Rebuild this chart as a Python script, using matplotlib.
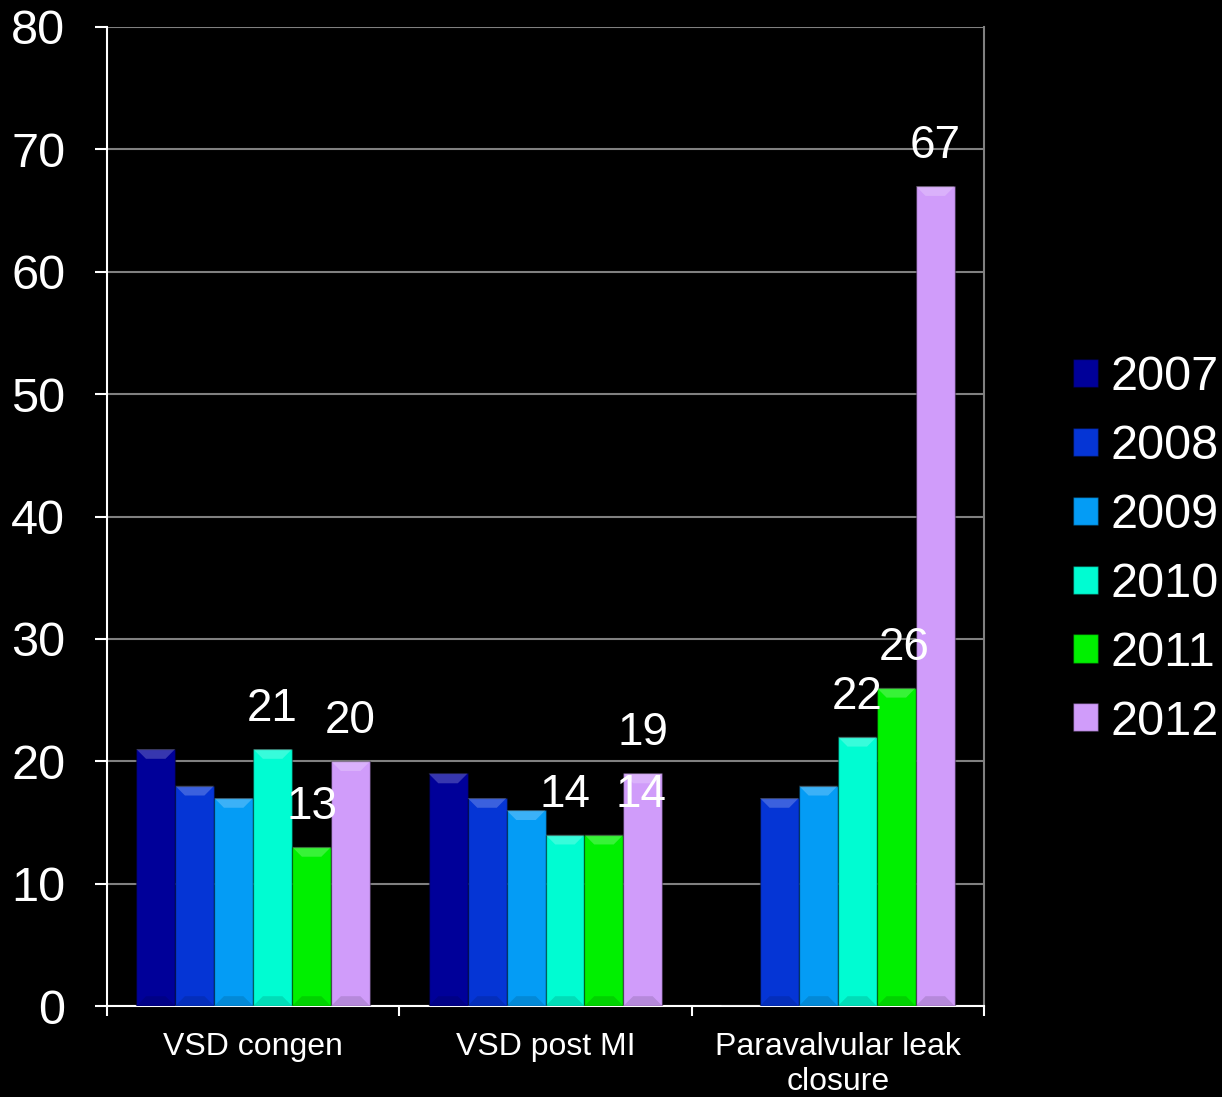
import matplotlib
matplotlib.use("Agg")
import matplotlib.pyplot as plt
import numpy as np
from matplotlib.patches import Polygon

categories = ["VSD congen", "VSD post MI", "Paravalvular leak\nclosure"]
years = ["2007", "2008", "2009", "2010", "2011", "2012"]
values = {
    "2007": [21, 19, 0],
    "2008": [18, 17, 17],
    "2009": [17, 16, 18],
    "2010": [21, 14, 22],
    "2011": [13, 14, 26],
    "2012": [20, 19, 67],
}
colors = ["#000099", "#0535D5", "#049CF5", "#00FCD2", "#00F000", "#D09CFA"]
labelled_years = ["2010", "2011", "2012"]
yticks = [0, 10, 20, 30, 40, 50, 60, 70, 80]

plt.rcParams['font.family'] = ['Liberation Sans', 'DejaVu Sans']

fig = plt.figure(figsize=(12.22, 10.97), dpi=100, facecolor="black")
ax = fig.add_axes([107/1222, 1-1006/1097, (984-107)/1222, (1006-27)/1097])
ax.set_facecolor("black")

n = len(years)
group_w = 0.8
bw = group_w / n
x = np.arange(len(categories))

# label offsets in points (x shift), for overlapping labels
label_dx = {("2011", 1): 27, ("2011", 2): 6}

for i, (yr, col) in enumerate(zip(years, colors)):
    xs = x - group_w/2 + bw*(i + 0.5)
    vals = values[yr]
    bars = ax.bar(xs, vals, width=bw, color=col, edgecolor=(0, 0, 0, 0.35),
                  linewidth=1.0, label=yr, zorder=3)
    # bevel highlight on top of each bar
    for b in bars:
        h = b.get_height()
        if h <= 0:
            continue
        x0 = b.get_x(); w = b.get_width()
        inset = w * 0.25
        bev = 0.8
        poly = Polygon([[x0, h], [x0 + w, h], [x0 + w - inset, h - bev], [x0 + inset, h - bev]],
                       closed=True, facecolor="white", alpha=0.22, edgecolor="none", zorder=4)
        ax.add_patch(poly)
        poly2 = Polygon([[x0, 0], [x0 + w, 0], [x0 + w - inset, 0.8], [x0 + inset, 0.8]],
                        closed=True, facecolor="black", alpha=0.12, edgecolor="none", zorder=4)
        ax.add_patch(poly2)
    if yr in labelled_years:
        for j, (xx, v) in enumerate(zip(xs, vals)):
            dx = label_dx.get((yr, j), 0)
            ax.annotate(str(v), (xx, v), xytext=(dx, 13), textcoords="offset points",
                        ha="center", va="bottom", color="white", fontsize=33, zorder=5)

ax.set_xlim(-0.5, len(categories) - 0.5)
ax.set_ylim(0, 80)
ax.set_yticks(yticks)
ax.set_yticklabels([str(t) for t in yticks])
ax.set_xticks(x)
ax.set_xticklabels(categories)
ax.set_xticks(np.arange(-0.5, len(categories)), minor=True)

ax.tick_params(axis="y", colors="white", labelsize=35, length=9, width=1.5, pad=21)
ax.tick_params(axis="x", which="major", length=0, colors="white", labelsize=23, pad=19)
ax.tick_params(axis="x", which="minor", length=7, width=1.5, color="white")
for lab in ax.get_xticklabels():
    lab.set_linespacing(1.2)

ax.yaxis.grid(True, color="#808080", linewidth=1.5, zorder=0)
ax.set_axisbelow(True)
ax.spines["top"].set_visible(False)
ax.spines["right"].set_color("#808080")
ax.spines["right"].set_linewidth(1.5)
ax.spines["left"].set_color("white")
ax.spines["left"].set_linewidth(1.5)
ax.spines["bottom"].set_color("white")
ax.spines["bottom"].set_linewidth(1.5)

leg = fig.legend(loc="center left", bbox_to_anchor=(1073/1222, 1 - 550/1097),
                 bbox_transform=fig.transFigure, frameon=False, fontsize=35,
                 handlelength=0.52, handleheight=0.52, handletextpad=0.25,
                 labelspacing=0.49, borderpad=0, borderaxespad=0)
for t in leg.get_texts():
    t.set_color("white")

fig.savefig("out.png", dpi=100, facecolor="black")
